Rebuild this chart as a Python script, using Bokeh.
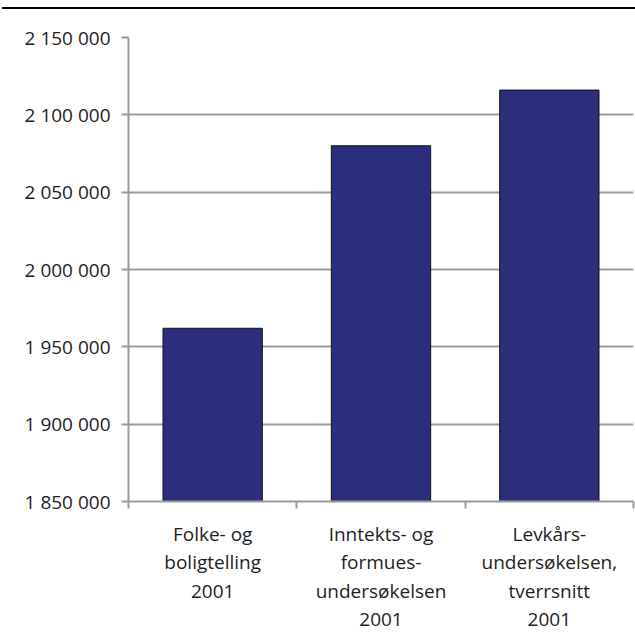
from bokeh.plotting import figure
from bokeh.layouts import column
from bokeh.models import Div, FixedTicker
from bokeh.embed import file_html
from bokeh.resources import INLINE

# data
categories = ["Folke- og\nboligtelling\n2001",
              "Inntekts- og\nformues-\nundersøkelsen\n2001",
              "Levkårs-\nundersøkelsen,\ntverrsnitt\n2001"]
values = [1962000, 2080000, 2116000]
y_ticks = [1850000, 1900000, 1950000, 2000000, 2050000, 2100000, 2150000]
y_tick_labels = ["1 850 000", "1 900 000", "1 950 000", "2 000 000",
                 "2 050 000", "2 100 000", "2 150 000"]

FONT = "Open Sans"
GREY = "#9a9a9a"
TXT = "#1e1e1e"

xs = [i + 0.5 for i in range(len(categories))]

p = figure(width=633, height=632, x_range=(0, len(categories)),
           y_range=(y_ticks[0], y_ticks[-1]),
           toolbar_location=None, output_backend="svg",
           min_border_left=126, min_border_right=2,
           min_border_top=28, min_border_bottom=140)
p.outline_line_color = None
p.background_fill_color = "white"
p.border_fill_color = "white"

p.vbar(x=xs, top=values, bottom=y_ticks[0], width=0.59,
       fill_color="#2a2e7c", line_color="#111111", line_width=1)

# y axis
p.yaxis.ticker = FixedTicker(ticks=y_ticks)
p.yaxis.major_label_overrides = dict(zip(y_ticks, y_tick_labels))
p.yaxis.axis_line_color = GREY
p.yaxis.axis_line_width = 2
p.yaxis.major_tick_line_color = GREY
p.yaxis.major_tick_line_width = 2
p.yaxis.major_tick_out = 7
p.yaxis.major_tick_in = 0
p.yaxis.minor_tick_line_color = None
p.yaxis.major_label_standoff = 11
p.yaxis.major_label_text_font = FONT
p.yaxis.major_label_text_font_size = "19px"
p.yaxis.major_label_text_color = TXT

# x axis: labels at centres, ticks at category borders
p.xaxis.ticker = FixedTicker(ticks=xs, minor_ticks=list(range(len(categories) + 1)))
p.xaxis.major_label_overrides = dict(zip(xs, categories))
p.xaxis.axis_line_color = GREY
p.xaxis.axis_line_width = 2
p.xaxis.major_tick_line_color = None
p.xaxis.major_tick_out = 0
p.xaxis.major_tick_in = 0
p.xaxis.minor_tick_line_color = GREY
p.xaxis.minor_tick_line_width = 2
p.xaxis.minor_tick_out = 7
p.xaxis.minor_tick_in = 0
p.xaxis.major_label_standoff = 12
p.xaxis.major_label_text_font = FONT
p.xaxis.major_label_text_font_size = "19px"
p.xaxis.major_label_text_color = TXT
p.xaxis.major_label_text_line_height = 1.1

p.xgrid.grid_line_color = None
p.ygrid.grid_line_color = GREY
p.ygrid.grid_line_width = 2

top_rule = Div(width=633, height=2, margin=(0, 0, 0, 0),
               styles={"background-color": "black"})

layout = column(top_rule, p, spacing=0, margin=(7, 0, 0, 2))

open("out.html", "w").write(file_html(layout, INLINE))
